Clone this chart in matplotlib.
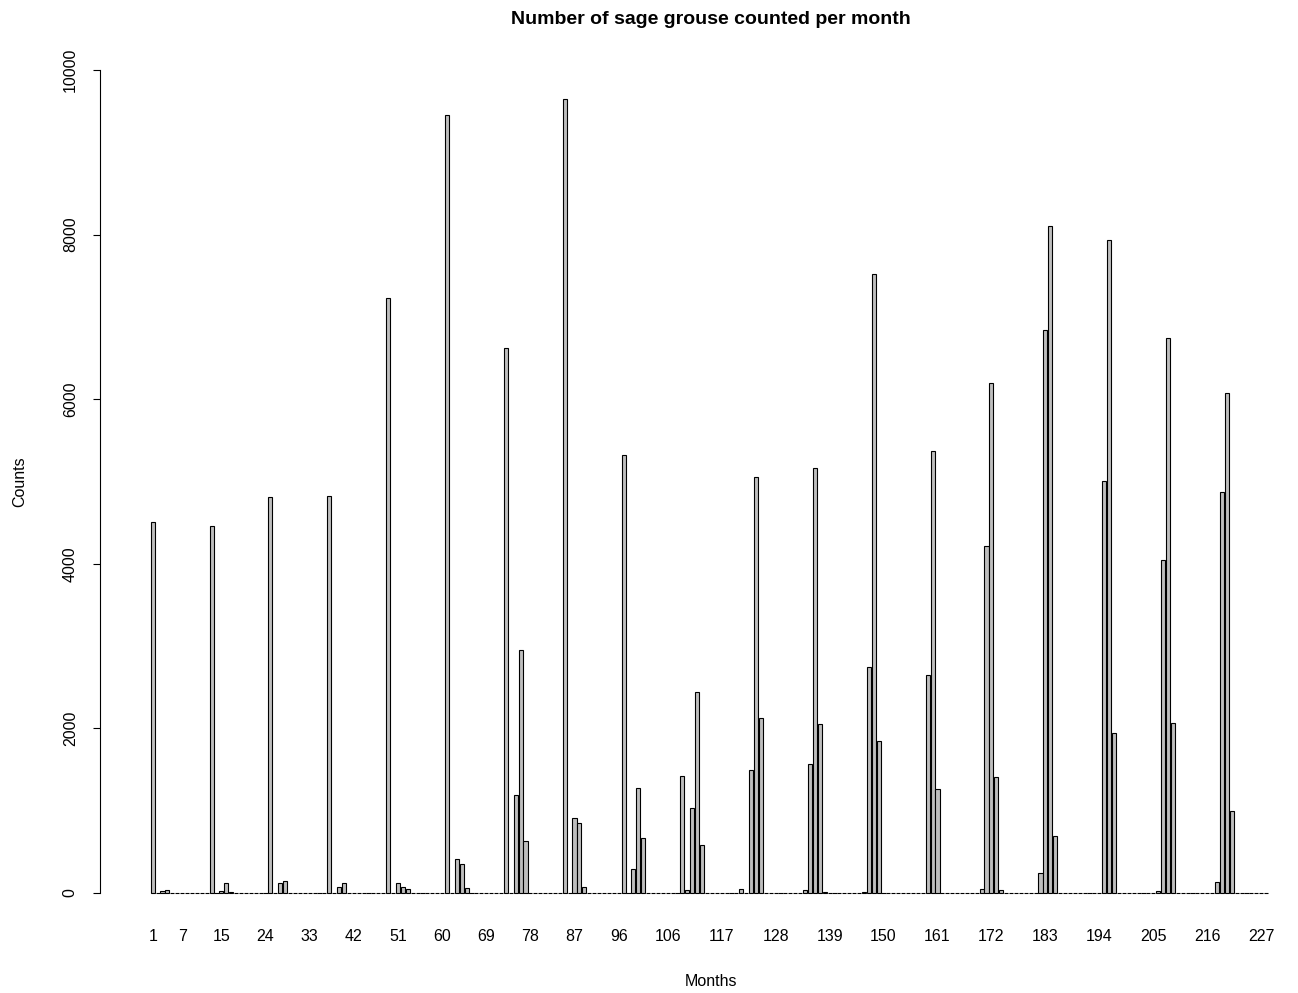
#!/usr/bin/env python3
"""
Bar chart of monthly sage grouse counts.
"""

import numpy as np
import matplotlib
matplotlib.use("Agg")
import matplotlib.pyplot as plt

plt.rcParams['font.family'] = ['Liberation Sans', 'DejaVu Sans']

# Counts per month, one row per 12 months (months 1..228)
COUNTS = [
    4510, 0, 20, 35, 5, 0, 0, 0, 0, 0, 0, 0,
    4460, 0, 30, 118, 10, 0, 0, 0, 0, 0, 0, 0,
    4815, 0, 125, 146, 0, 0, 0, 0, 0, 0, 0, 0,
    4830, 0, 77, 125, 0, 0, 0, 0, 0, 0, 0, 0,
    7230, 0, 125, 77, 48, 0, 0, 0, 0, 0, 0, 0,
    9455, 0, 413, 353, 57, 0, 0, 0, 0, 0, 0, 0,
    6625, 0, 1191, 2955, 636, 0, 0, 0, 0, 0, 0, 0,
    9650, 0, 916, 847, 77, 0, 0, 0, 0, 0, 0, 0,
    5325, 0, 292, 1280, 673, 0, 0, 0, 0, 0, 0, 0,
    1422, 36, 1030, 2440, 580, 0, 0, 0, 0, 0, 0, 0,
    45, 0, 1495, 5060, 2124, 0, 0, 0, 0, 0, 0, 0,
    0, 40, 1565, 5165, 2051, 10, 0, 0, 0, 0, 0, 0,
    0, 10, 2752, 7525, 1852, 0, 0, 0, 0, 0, 0, 0,
    0, 0, 2650, 5375, 1264, 0, 0, 0, 0, 0, 0, 0,
    0, 45, 4220, 6200, 1414, 36, 0, 0, 0, 0, 0, 0,
    0, 239, 6835, 8110, 693, 0, 0, 0, 0, 0, 0, 0,
    0, 0, 5005, 7940, 1941, 0, 0, 0, 0, 0, 0, 0,
    0, 30, 4050, 6745, 2071, 0, 0, 0, 0, 0, 0, 0,
    0, 134, 4875, 6070, 997, 0, 0, 0, 0, 0, 0, 0,
]
MONTHS = np.arange(1, len(COUNTS) + 1)

# month names that fit along the axis without overlapping
SHOWN_MONTHS = [1, 7, 15, 24, 33, 42, 51, 60, 69, 78, 87, 96, 106, 117,
                128, 139, 150, 161, 172, 183, 194, 205, 216, 227]
Y_TICKS = [0, 2000, 4000, 6000, 8000, 10000]

W, H = 1298, 993


def plot_counts():
    fig = plt.figure(figsize=(W / 100, H / 100), dpi=100)
    left, right, top, bottom = 100, 1290, 66.8, 924.8
    ax = fig.add_axes([left / W, 1 - bottom / H,
                       (right - left) / W, (bottom - top) / H])

    ax.bar(MONTHS, COUNTS, width=1 / 1.2, color='#bebebe',
           edgecolor='black', linewidth=0.8)

    ax.set_xlim(-9.744, 232.87)
    ax.set_ylim(-386, 10039)

    for side in ('top', 'right', 'bottom'):
        ax.spines[side].set_visible(False)
    ax.spines['left'].set_bounds(0, 10000)
    ax.spines['left'].set_linewidth(0.8)

    ax.set_yticks(Y_TICKS)
    ax.set_yticklabels([str(t) for t in Y_TICKS], rotation=90, va='center')
    ax.tick_params(axis='y', length=5, width=0.8, pad=11, labelsize=11.5)

    ax.set_xticks(SHOWN_MONTHS)
    ax.set_xticklabels([str(m) for m in SHOWN_MONTHS])
    ax.tick_params(axis='x', length=0, pad=3, labelsize=11.5)

    fig.text(711 / W, 1 - 20 / H, 'Number of sage grouse counted per month',
             ha='center', va='center', fontsize=14, fontweight='bold')
    fig.text(711 / W, 1 - 981 / H, 'Months', ha='center', va='center',
             fontsize=11.5)
    fig.text(20 / W, 1 - 482 / H, 'Counts', ha='center', va='center',
             rotation=90, fontsize=11.5)

    fig.savefig('out.png', dpi=100)


if __name__ == '__main__':
    plot_counts()
